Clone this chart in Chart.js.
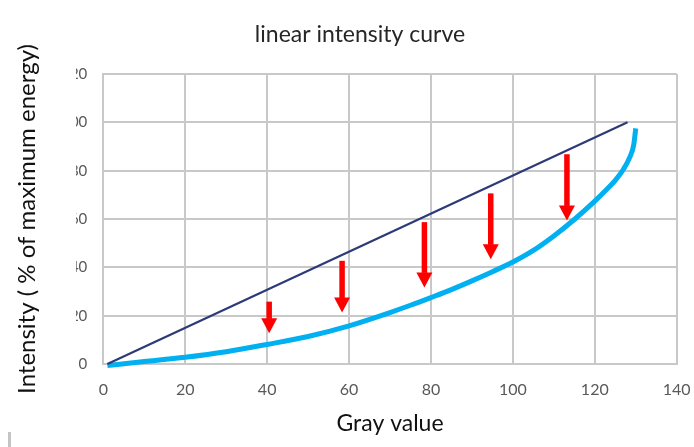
<!DOCTYPE html>
<html>
<head>
<meta charset="utf-8">
<script src="https://cdn.jsdelivr.net/npm/chart.js@4.4.1/dist/chart.umd.min.js"></script>
<style>
  html, body { margin: 0; padding: 0; background: #ffffff; }
  #wrap { width: 694px; height: 447px; }
</style>
</head>
<body>
<div id="wrap"><canvas id="c" width="694" height="447"></canvas></div>
<script>
// Straight reference line: intensity proportional to gray value
const linearGray = [1, 128];
const linearIntensity = [0, 100];

// Measured intensity curve
const curveGray = [1, 10, 20, 30, 40, 50, 60, 70, 75, 80, 85, 90, 95, 100, 105, 110, 115, 120, 123, 125, 127, 128.5, 129.5, 130];
const curveIntensity = [-0.6, 1.0, 2.8, 5.1, 8.1, 11.4, 15.8, 21.3, 24.3, 27.5, 30.8, 34.4, 38.2, 42.2, 47.0, 53.0, 59.8, 67.4, 72.4, 76.0, 80.6, 85.4, 90.6, 97.5];

// Red arrows from the straight line down to the curve
const arrowGray = [40.5, 58.3, 78.4, 94.6, 113.2];
const arrowFrom = [25.8, 42.7, 58.7, 70.6, 86.8];
const arrowTo = [12.7, 21.3, 31.7, 43.3, 59.4];

// Axis ticks
const xTicks = [0, 20, 40, 60, 80, 100, 120, 140];
const yTicks = [0, 20, 40, 60, 80, 100, 120];

const chartTitle = 'linear intensity curve';

const toPoints = (xs, ys) => xs.map((x, i) => ({ x: x, y: ys[i] }));

const arrowPlugin = {
  id: 'arrows',
  afterDatasetsDraw(chart) {
    const { ctx, scales: { x, y } } = chart;
    ctx.save();
    ctx.fillStyle = '#ff0000';
    const headH = 15, headW = 16, shaftW = 5.5;
    arrowGray.forEach((g, i) => {
      const px = x.getPixelForValue(g);
      const top = y.getPixelForValue(arrowFrom[i]);
      const tip = y.getPixelForValue(arrowTo[i]);
      ctx.fillRect(px - shaftW / 2, top, shaftW, tip - headH - top + 0.5);
      ctx.beginPath();
      ctx.moveTo(px - headW / 2, tip - headH);
      ctx.lineTo(px + headW / 2, tip - headH);
      ctx.lineTo(px, tip);
      ctx.closePath();
      ctx.fill();
    });
    ctx.restore();
  }
};

// Title, trimmed y tick labels and the small edge mark
const decorPlugin = {
  id: 'decor',
  afterDraw(chart) {
    const { ctx } = chart;
    ctx.save();
    ctx.fillStyle = '#262626';
    ctx.font = '23px Lato';
    ctx.textAlign = 'center';
    ctx.textBaseline = 'alphabetic';
    ctx.fillText(chartTitle, 360, 41.5);
    ctx.fillStyle = '#ffffff';
    ctx.fillRect(46, 60, 30, 320);
    ctx.fillStyle = '#c4c4c4';
    ctx.fillRect(8, 432, 3, 15);
    ctx.restore();
  }
};

new Chart(document.getElementById('c'), {
  type: 'scatter',
  data: {
    datasets: [
      {
        data: toPoints(linearGray, linearIntensity),
        showLine: true,
        borderColor: '#2d3a78',
        borderWidth: 2.2,
        pointRadius: 0,
        clip: false
      },
      {
        data: toPoints(curveGray, curveIntensity),
        showLine: true,
        borderColor: '#00b0f0',
        borderWidth: 5,
        pointRadius: 0,
        cubicInterpolationMode: 'monotone',
        clip: false
      }
    ]
  },
  options: {
    responsive: false,
    animation: false,
    events: [],
    layout: { padding: { left: 0, right: 17.3, top: 74, bottom: 0 } },
    plugins: {
      legend: { display: false },
      tooltip: { enabled: false },
      title: { display: false }
    },
    scales: {
      x: {
        type: 'linear',
        min: 0,
        max: 140,
        afterBuildTicks: (s) => { s.ticks = xTicks.map(v => ({ value: v })); },
        afterFit: (s) => { s.height = 83; s.paddingLeft = 0; s.paddingRight = 0; },
        grid: { color: '#c8c8c8', lineWidth: 2, drawTicks: false },
        border: { color: '#c8c8c8', width: 2 },
        ticks: {
          color: '#595959',
          padding: 16,
          maxRotation: 0,
          font: { family: 'Lato', size: 16 }
        },
        title: {
          display: true,
          text: 'Gray value',
          color: '#111111',
          font: { family: 'Lato', size: 23 },
          padding: { top: 0, bottom: 10 }
        }
      },
      y: {
        type: 'linear',
        min: 0,
        max: 120,
        afterBuildTicks: (s) => { s.ticks = yTicks.map(v => ({ value: v })); },
        afterFit: (s) => { s.width = 103.3; s.paddingTop = 0; s.paddingBottom = 0; },
        grid: { color: '#c8c8c8', lineWidth: 2, drawTicks: false },
        border: { color: '#c8c8c8', width: 2 },
        ticks: {
          color: '#595959',
          padding: 16,
          font: { family: 'Lato', size: 15 }
        },
        title: {
          display: true,
          text: 'Intensity ( % of maximum energy)',
          color: '#111111',
          font: { family: 'Lato', size: 24 },
          padding: { top: 12.6, bottom: 0 }
        }
      }
    }
  },
  plugins: [arrowPlugin, decorPlugin]
});
</script>
</body>
</html>
